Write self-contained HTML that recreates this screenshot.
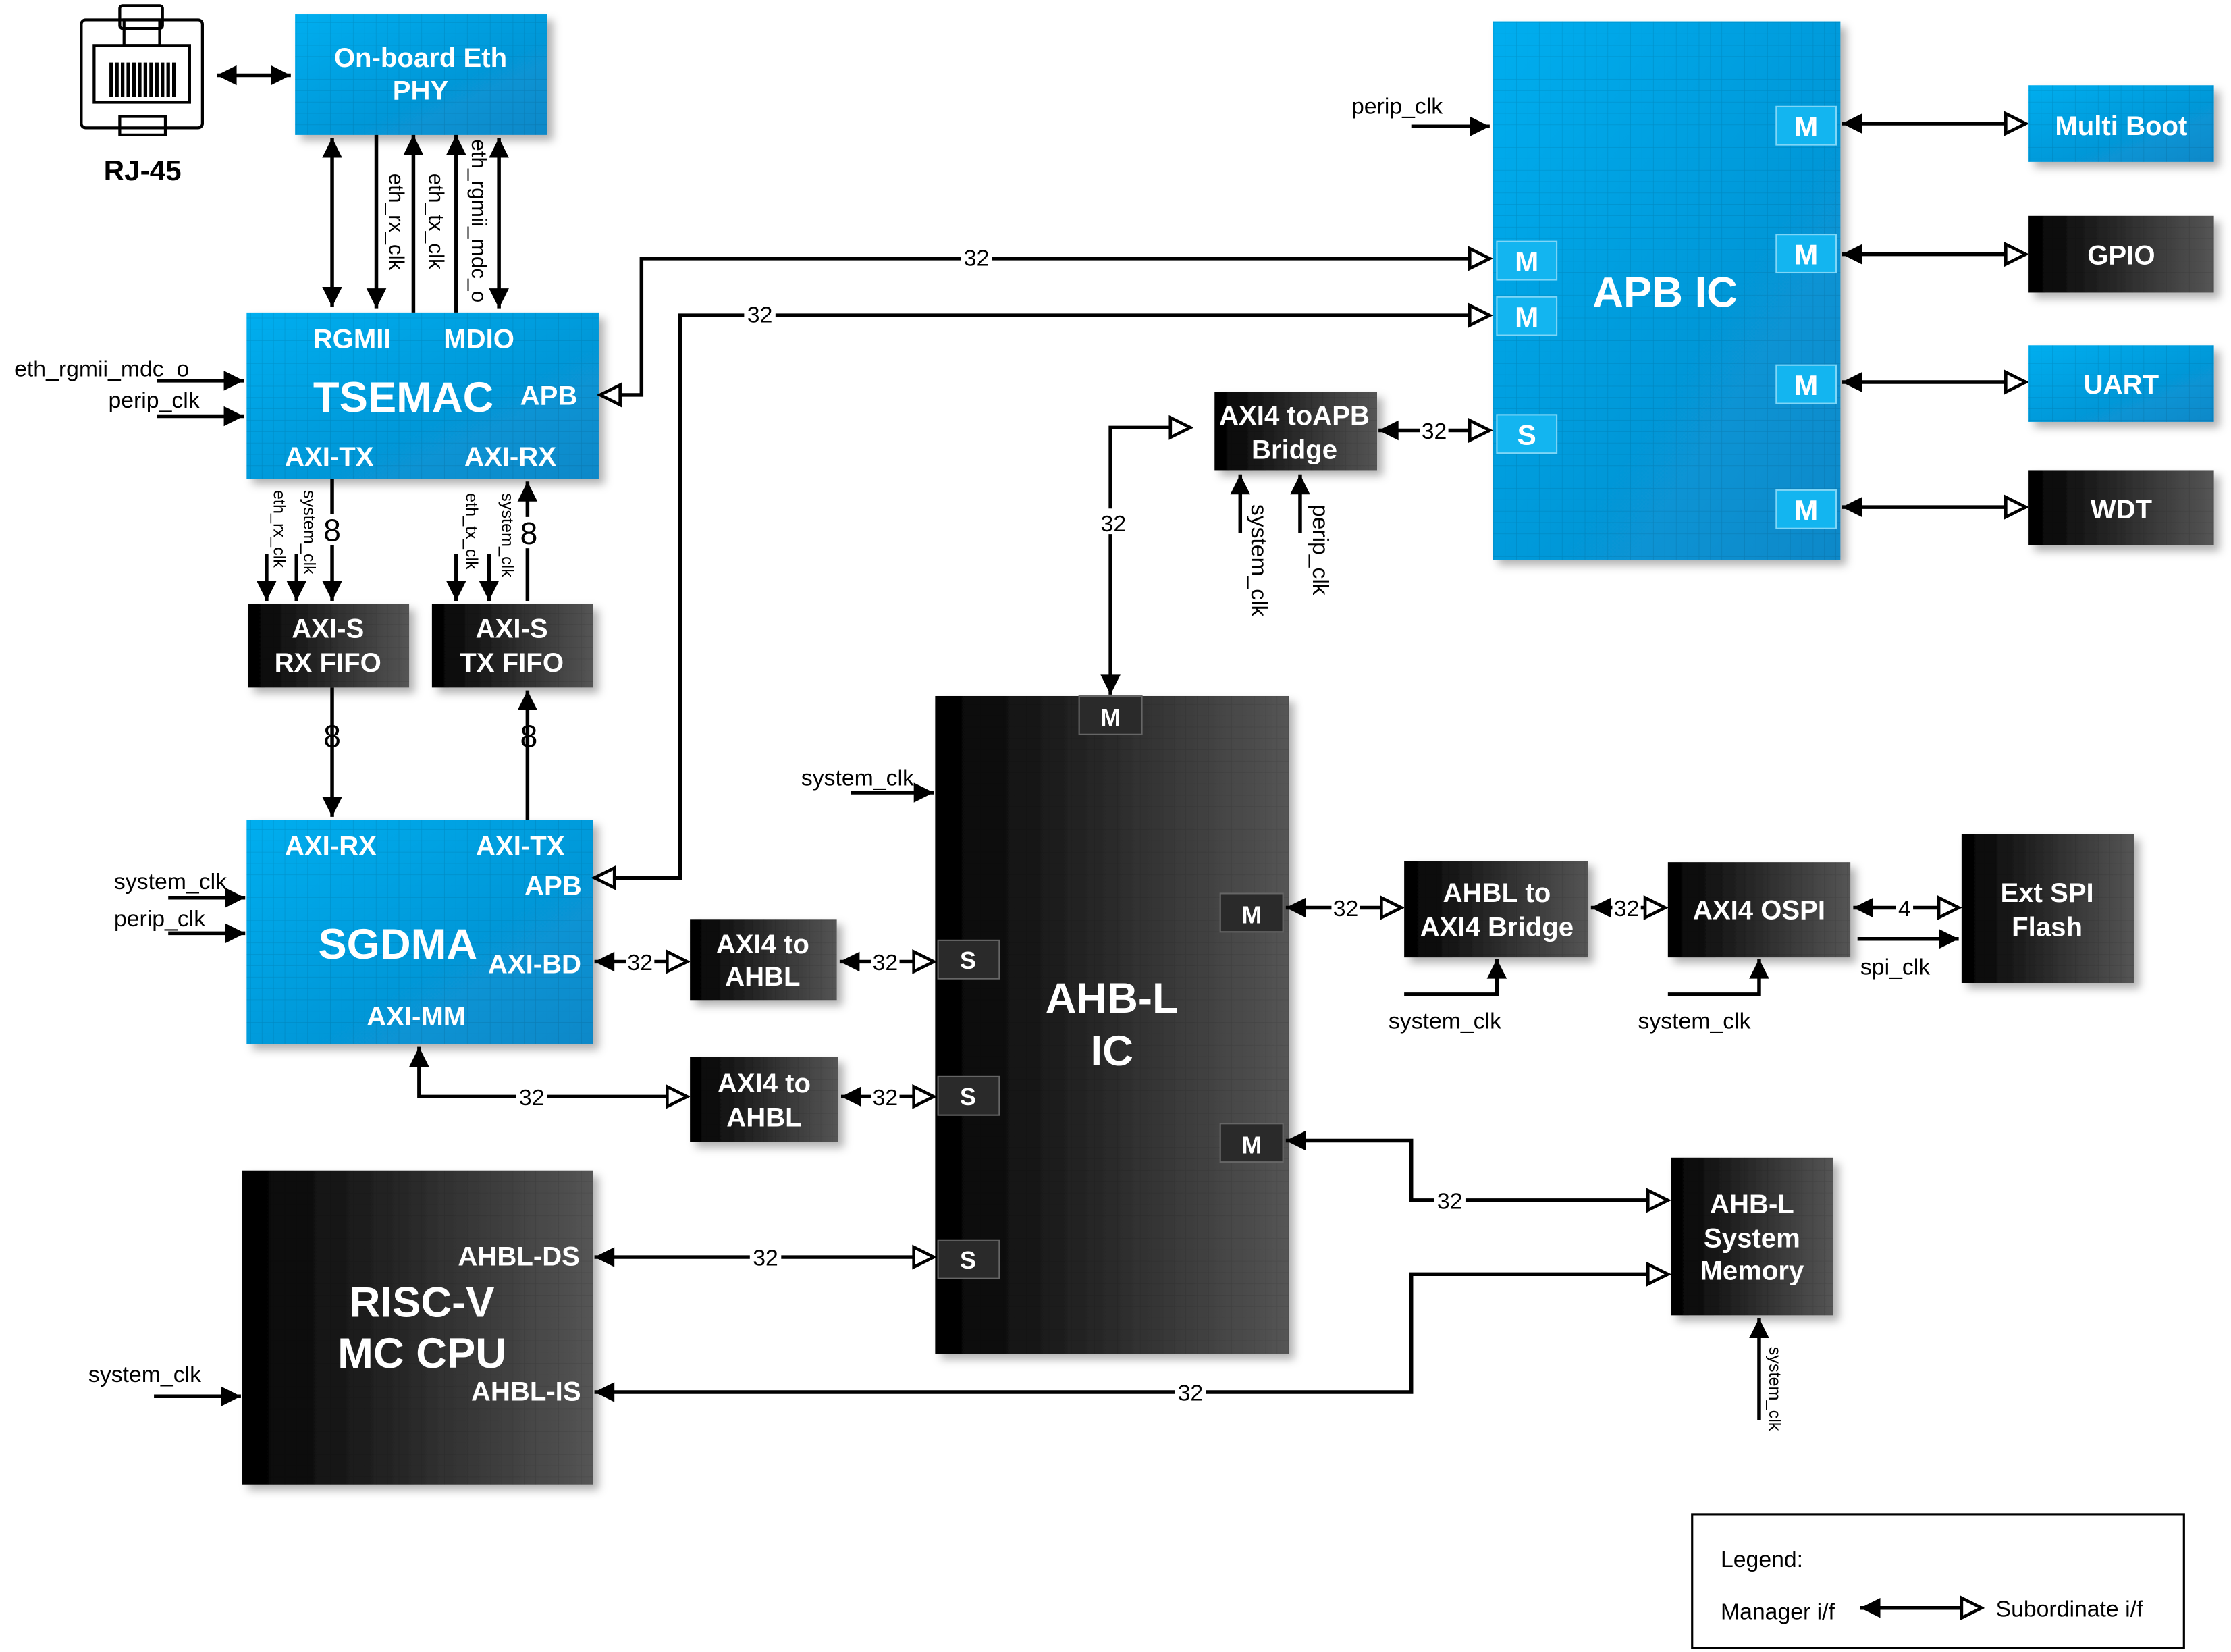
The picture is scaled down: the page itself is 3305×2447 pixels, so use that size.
<!DOCTYPE html>
<html><head><meta charset="utf-8"><style>html,body{margin:0;padding:0;background:#fff}svg{display:block}</style></head><body>
<svg width="3305" height="2447" viewBox="0 0 1565 1163" preserveAspectRatio="none" xmlns="http://www.w3.org/2000/svg" font-family="Liberation Sans, sans-serif">
<defs>
<linearGradient id="blue" x1="0" y1="0" x2="1" y2="1"><stop offset="0" stop-color="#00aeef"/><stop offset="1" stop-color="#0a88c8"/></linearGradient>
<linearGradient id="dark" x1="0" y1="0" x2="1" y2="0"><stop offset="0" stop-color="#000"/><stop offset="1" stop-color="#555"/></linearGradient>
<pattern id="grid" width="8" height="8" patternUnits="userSpaceOnUse"><path d="M8 0V8M0 8H8" stroke="#000" stroke-opacity="0.12" stroke-width="0.6" fill="none"/></pattern>
<filter id="sh" x="-10%" y="-10%" width="130%" height="130%"><feDropShadow dx="4" dy="4" stdDeviation="3" flood-color="#000" flood-opacity="0.3"/></filter>
<marker id="f" markerUnits="userSpaceOnUse" markerWidth="16" markerHeight="16" viewBox="0 0 16 16" refX="15" refY="8" orient="auto-start-reverse"><path d="M1 1L15 8L1 15Z" fill="#000"/></marker>
<marker id="h" markerUnits="userSpaceOnUse" markerWidth="18" markerHeight="18" viewBox="0 0 18 18" refX="16" refY="9" orient="auto-start-reverse"><path d="M2 2L16 9L2 16Z" fill="#fff" stroke="#000" stroke-width="2.2"/></marker>
</defs>
<style>
.b{fill:url(#blue)}.d{fill:url(#dark)}.g{fill:url(#grid)}
.t{fill:#fff;font-weight:bold;text-anchor:middle}
.l{fill:#000}
.w{stroke:#000;stroke-width:2.6;fill:none}
</style>

<!-- RJ45 -->
<g fill="none" stroke="#000" stroke-width="2">
<rect x="57" y="14" width="85" height="76" rx="3"/>
<rect x="66" y="32" width="67" height="40"/>
<rect x="84" y="4" width="30" height="16" rx="2"/><rect x="87" y="14" width="25" height="18"/>
<rect x="84" y="82" width="32" height="13"/>
</g>
<g stroke="#000" stroke-width="2.5"><path d="M78 44V68M82 44V68M86 44V68M90 44V68M94 44V68M98 44V68M102 44V68M106 44V68M110 44V68M114 44V68M118 44V68M122 44V68"/></g>
<text x="100" y="127" font-size="20" font-weight="bold" text-anchor="middle">RJ-45</text>
<path class="w" d="M152 53H204" marker-start="url(#f)" marker-end="url(#f)"/>

<!-- boxes -->
<g filter="url(#sh)">
<rect class="b" x="207" y="10" width="177" height="85"/>
<rect class="b" x="173" y="220" width="247" height="117"/>
<rect class="b" x="173" y="577" width="243" height="158"/>
<rect class="b" x="1047" y="15" width="244" height="379"/>
<rect class="b" x="1423" y="60" width="130" height="54"/>
<rect class="d" x="1423" y="152" width="130" height="54"/>
<rect class="b" x="1423" y="243" width="130" height="54"/>
<rect class="d" x="1423" y="331" width="130" height="53"/>
<rect class="d" x="852" y="276" width="114" height="55"/>
<rect class="d" x="174" y="425" width="113" height="59"/>
<rect class="d" x="303" y="425" width="113" height="59"/>
<rect class="d" x="656" y="490" width="248" height="463"/>
<rect class="d" x="484" y="647" width="103" height="57"/>
<rect class="d" x="484" y="744" width="104" height="60"/>
<rect class="d" x="985" y="606" width="129" height="68"/>
<rect class="d" x="1170" y="607" width="128" height="67"/>
<rect class="d" x="1376" y="587" width="121" height="105"/>
<rect class="d" x="1172" y="815" width="114" height="111"/>
<rect class="d" x="170" y="824" width="246" height="221"/>
</g>
<g class="g">
<rect x="207" y="10" width="177" height="85"/><rect x="173" y="220" width="247" height="117"/><rect x="173" y="577" width="243" height="158"/><rect x="1047" y="15" width="244" height="379"/><rect x="1423" y="60" width="130" height="54"/><rect x="1423" y="152" width="130" height="54"/><rect x="1423" y="243" width="130" height="54"/><rect x="1423" y="331" width="130" height="53"/><rect x="852" y="276" width="114" height="55"/><rect x="174" y="425" width="113" height="59"/><rect x="303" y="425" width="113" height="59"/><rect x="656" y="490" width="248" height="463"/><rect x="484" y="647" width="103" height="57"/><rect x="484" y="744" width="104" height="60"/><rect x="985" y="606" width="129" height="68"/><rect x="1170" y="607" width="128" height="67"/><rect x="1376" y="587" width="121" height="105"/><rect x="1172" y="815" width="114" height="111"/><rect x="170" y="824" width="246" height="221"/>
</g>

<!-- ports -->
<g fill="#13b5f0" stroke="#7fd6f7" stroke-width="1">
<rect x="1050" y="170" width="42" height="27"/><rect x="1050" y="209" width="42" height="27"/><rect x="1050" y="292" width="42" height="27"/>
<rect x="1246" y="75" width="42" height="27"/><rect x="1246" y="165" width="42" height="27"/><rect x="1246" y="257" width="42" height="27"/><rect x="1246" y="345" width="42" height="27"/>
</g>
<g fill="#2a2a2a" stroke="#666" stroke-width="1">
<rect x="757" y="490" width="44" height="27"/><rect x="658" y="662" width="43" height="27"/><rect x="658" y="758" width="43" height="27"/><rect x="658" y="873" width="43" height="27"/><rect x="856" y="629" width="44" height="27"/><rect x="856" y="791" width="44" height="27"/>
</g>
<g class="t" font-size="20">
<text x="1071" y="191">M</text><text x="1071" y="230">M</text><text x="1071" y="313">S</text>
<text x="1267" y="96">M</text><text x="1267" y="186">M</text><text x="1267" y="278">M</text><text x="1267" y="366">M</text>
</g>
<g class="t" font-size="17">
<text x="779" y="511">M</text><text x="679" y="682">S</text><text x="679" y="778">S</text><text x="679" y="893">S</text><text x="878" y="650">M</text><text x="878" y="812">M</text>
</g>

<!-- box text -->
<g class="t" font-size="19">
<text x="295" y="47">On-board Eth</text><text x="295" y="70">PHY</text>
<text x="247" y="245">RGMII</text><text x="336" y="245">MDIO</text>
<text x="385" y="285">APB</text><text x="231" y="328">AXI-TX</text><text x="358" y="328">AXI-RX</text>
<text x="1488" y="95">Multi Boot</text><text x="1488" y="186">GPIO</text><text x="1488" y="277">UART</text><text x="1488" y="365">WDT</text>
<text x="908" y="299">AXI4 toAPB</text><text x="908" y="323">Bridge</text>
<text x="230" y="449">AXI-S</text><text x="230" y="473">RX FIFO</text>
<text x="359" y="449">AXI-S</text><text x="359" y="473">TX FIFO</text>
<text x="232" y="602">AXI-RX</text><text x="365" y="602">AXI-TX</text><text x="388" y="630">APB</text>
<text x="375" y="685">AXI-BD</text><text x="292" y="722">AXI-MM</text>
<text x="535" y="671">AXI4 to</text><text x="535" y="694">AHBL</text>
<text x="536" y="769">AXI4 to</text><text x="536" y="793">AHBL</text>
<text x="1050" y="635">AHBL to</text><text x="1050" y="659">AXI4 Bridge</text>
<text x="1234" y="647">AXI4 OSPI</text>
<text x="1436" y="635">Ext SPI</text><text x="1436" y="659">Flash</text>
<text x="1229" y="854">AHB-L</text><text x="1229" y="878">System</text><text x="1229" y="901">Memory</text>
<text x="364" y="891">AHBL-DS</text><text x="369" y="986">AHBL-IS</text>
</g>
<g class="t" font-size="30">
<text x="283" y="290">TSEMAC</text><text x="1168" y="216">APB IC</text><text x="279" y="675">SGDMA</text>
<text x="780" y="713">AHB-L</text><text x="780" y="750">IC</text>
<text x="296" y="927">RISC-V</text><text x="296" y="963">MC CPU</text>
</g>

<!-- PHY-TSEMAC -->
<path class="w" d="M233 97V216" marker-start="url(#f)" marker-end="url(#f)"/>
<path class="w" d="M264 95V217" marker-end="url(#f)"/>
<path class="w" d="M290 220V95" marker-end="url(#f)"/>
<path class="w" d="M320 220V95" marker-end="url(#f)"/>
<path class="w" d="M350 97V217" marker-start="url(#f)" marker-end="url(#f)"/>
<g class="l" style="font-size:15px">
<text transform="translate(273,122) rotate(90)">eth_rx_clk</text>
<text transform="translate(301,122) rotate(90)">eth_tx_clk</text>
<text transform="translate(331,98) rotate(90)">eth_rgmii_mdc_o</text>
</g>
<g style="font-size:16px">
<text class="l" x="10" y="265">eth_rgmii_mdc_o</text>
<text class="l" x="76" y="287">perip_clk</text>
</g>
<path class="w" d="M110 268H171" marker-end="url(#f)"/>
<path class="w" d="M110 293H171" marker-end="url(#f)"/>

<!-- TSEMAC-FIFOs -->
<path class="w" d="M233 337V423" marker-end="url(#f)"/>
<path class="w" d="M187 390V423" marker-end="url(#f)"/>
<path class="w" d="M208 390V423" marker-end="url(#f)"/>
<path class="w" d="M370 423V339" marker-end="url(#f)"/>
<path class="w" d="M320 390V423" marker-end="url(#f)"/>
<path class="w" d="M343 390V423" marker-end="url(#f)"/>
<g fill="#fff"><rect x="226" y="362" width="14" height="22"/><rect x="363" y="364" width="14" height="22"/><rect x="226" y="507" width="14" height="22"/><rect x="363" y="507" width="14" height="22"/></g>
<g class="l" style="font-size:22px" text-anchor="middle"><text x="233" y="381">8</text><text x="371" y="383">8</text><text x="233" y="526">8</text><text x="371" y="526">8</text></g>
<g class="l" style="font-size:12px">
<text transform="translate(192,345) rotate(90)">eth_rx_clk</text>
<text transform="translate(213,345) rotate(90)">system_clk</text>
<text transform="translate(327,347) rotate(90)">eth_tx_clk</text>
<text transform="translate(352,347) rotate(90)">system_clk</text>
</g>
<path class="w" d="M233 484V575" marker-end="url(#f)"/>
<path class="w" d="M370 577V486" marker-end="url(#f)"/>

<!-- APB connections -->
<path class="w" d="M1045 182H450V278H421" marker-start="url(#h)" marker-end="url(#h)"/>
<path class="w" d="M1045 222H477V618H417" marker-start="url(#h)" marker-end="url(#h)"/>
<g fill="#fff"><rect x="674" y="172" width="22" height="18"/><rect x="522" y="212" width="22" height="18"/></g>
<g style="font-size:16px">
<g class="l" text-anchor="middle"><text x="685" y="187">32</text><text x="533" y="227">32</text></g>
<text class="l" x="948" y="80">perip_clk</text>
</g>
<path class="w" d="M990 89H1045" marker-end="url(#f)"/>
<path class="w" d="M1292 87H1421" marker-start="url(#f)" marker-end="url(#h)"/>
<path class="w" d="M1292 179H1421" marker-start="url(#f)" marker-end="url(#h)"/>
<path class="w" d="M1292 269H1421" marker-start="url(#f)" marker-end="url(#h)"/>
<path class="w" d="M1292 357H1421" marker-start="url(#f)" marker-end="url(#h)"/>

<!-- Bridge -->
<path class="w" d="M967 303H1045" marker-start="url(#f)" marker-end="url(#h)"/>
<rect x="996" y="294" width="20" height="18" fill="#fff"/>
<path class="w" d="M835 301H779V489" marker-start="url(#h)" marker-end="url(#f)"/>
<rect x="770" y="358" width="22" height="18" fill="#fff"/>
<path class="w" d="M870 375V334" marker-end="url(#f)"/>
<path class="w" d="M912 375V334" marker-end="url(#f)"/>
<g style="font-size:16px">
<text class="l" x="1006" y="309" text-anchor="middle">32</text>
<text class="l" x="781" y="374" text-anchor="middle">32</text>
<g class="l"><text transform="translate(878,355) rotate(90)">system_clk</text><text transform="translate(921,355) rotate(90)">perip_clk</text></g>
</g>

<!-- AHB-L IC -->
<path class="w" d="M597 558H655" marker-end="url(#f)"/>
<path class="w" d="M118 632H172" marker-end="url(#f)"/>
<path class="w" d="M118 657H172" marker-end="url(#f)"/>
<path class="w" d="M417 677H482" marker-start="url(#f)" marker-end="url(#h)"/>
<path class="w" d="M589 677H655" marker-start="url(#f)" marker-end="url(#h)"/>
<path class="w" d="M294 737V772H482" marker-start="url(#f)" marker-end="url(#h)"/>
<path class="w" d="M590 772H655" marker-start="url(#f)" marker-end="url(#h)"/>
<path class="w" d="M417 885H655" marker-start="url(#f)" marker-end="url(#h)"/>
<path class="w" d="M417 980H990V897H1170" marker-start="url(#f)" marker-end="url(#h)"/>
<path class="w" d="M902 803H990V845H1170" marker-start="url(#f)" marker-end="url(#h)"/>
<path class="w" d="M108 983H169" marker-end="url(#f)"/>
<path class="w" d="M902 639H983" marker-start="url(#f)" marker-end="url(#h)"/>
<path class="w" d="M1116 639H1168" marker-start="url(#f)" marker-end="url(#h)"/>
<path class="w" d="M1300 639H1374" marker-start="url(#f)" marker-end="url(#h)"/>
<path class="w" d="M1303 661H1374" marker-end="url(#f)"/>
<path class="w" d="M985 700H1050V675" marker-end="url(#f)"/>
<path class="w" d="M1170 700H1234V675" marker-end="url(#f)"/>
<path class="w" d="M1234 1000V928" marker-end="url(#f)"/>
<g fill="#fff">
<rect x="439" y="668" width="20" height="18"/><rect x="611" y="668" width="20" height="18"/><rect x="362" y="763" width="22" height="18"/><rect x="611" y="763" width="20" height="18"/>
<rect x="526" y="876" width="22" height="18"/><rect x="824" y="971" width="22" height="18"/><rect x="1006" y="836" width="22" height="18"/>
<rect x="934" y="630" width="20" height="18"/><rect x="1131" y="630" width="20" height="18"/><rect x="1330" y="630" width="12" height="18"/>
</g>
<g style="font-size:16px">
<text class="l" x="562" y="553">system_clk</text>
<text class="l" x="80" y="626">system_clk</text>
<text class="l" x="80" y="652">perip_clk</text>
<text class="l" x="62" y="973">system_clk</text>
<text class="l" x="1305" y="686">spi_clk</text>
<text class="l" x="974" y="724">system_clk</text><text class="l" x="1149" y="724">system_clk</text>
<g class="l" text-anchor="middle">
<text x="449" y="683">32</text><text x="621" y="683">32</text><text x="373" y="778">32</text><text x="621" y="778">32</text>
<text x="537" y="891">32</text><text x="835" y="986">32</text><text x="1017" y="851">32</text>
<text x="944" y="645">32</text><text x="1141" y="645">32</text><text x="1336" y="645">4</text>
</g>
</g>
<text class="l" style="font-size:12px" transform="translate(1241,948) rotate(90)">system_clk</text>

<!-- Legend -->
<rect x="1187" y="1066" width="345" height="94" fill="none" stroke="#000" stroke-width="1.5"/>
<path class="w" d="M1305 1132H1390" marker-start="url(#f)" marker-end="url(#h)"/>
<g style="font-size:16px">
<text class="l" x="1207" y="1103">Legend:</text>
<text class="l" x="1207" y="1140">Manager i/f</text>
<text class="l" x="1400" y="1138">Subordinate i/f</text>
</g>
</svg>
</body></html>
